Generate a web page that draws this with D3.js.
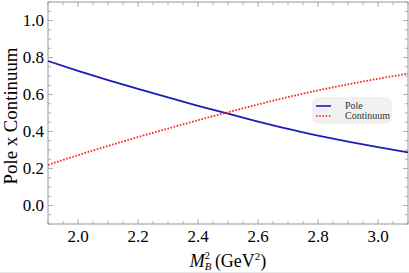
<!DOCTYPE html>
<html>
<head>
<meta charset="utf-8">
<script src="https://cdn.jsdelivr.net/npm/d3@7"></script>
<style>
  body { margin: 0; background: #fff; }
  svg text { font-family: "Liberation Serif", "Times New Roman", "DejaVu Serif", serif; }
</style>
</head>
<body>
<div id="chart"></div>
<script>
'use strict';

// data
var massSq = [1.9, 2.0, 2.1, 2.2, 2.3, 2.4, 2.5, 2.6, 2.7, 2.8, 2.9, 3.0, 3.1];
var pole = [0.781, 0.728, 0.678, 0.630, 0.584, 0.539, 0.496, 0.454, 0.414, 0.378, 0.345, 0.315, 0.287];
var continuum = [0.219, 0.272, 0.322, 0.370, 0.416, 0.461, 0.504, 0.546, 0.586, 0.622, 0.655, 0.685, 0.713];
var xTicks = [2.0, 2.2, 2.4, 2.6, 2.8, 3.0];
var yTicks = [0.0, 0.2, 0.4, 0.6, 0.8, 1.0];
var seriesNames = ["Pole", "Continuum"];

var serif = "'Liberation Serif', 'Times New Roman', 'DejaVu Serif', serif";

var width = 409, height = 273,
    margin = {top: 2, right: 1, bottom: 49, left: 48},
    w = width - margin.left - margin.right,
    h = height - margin.top - margin.bottom;

var svg = d3.select("#chart").append("svg")
    .attr("width", width)
    .attr("height", height)
    .attr("font-family", serif);

var g = svg.append("g").attr("transform", "translate(" + margin.left + "," + margin.top + ")");

var x = d3.scaleLinear().domain([1.9, 3.1]).range([0, w]);
var y = d3.scaleLinear().domain([-0.1, 1.1]).range([h, 0]);

var frameColor = "#999";

// minor + major ticks on all four sides, pointing inward
var xMinor = d3.range(1.9, 3.1001, 0.05);
var yMinor = d3.range(-0.1, 1.1001, 0.05);

function isMajor(v, list) {
    return list.some(function (t) { return Math.abs(t - v) < 1e-6; });
}

var ticks = g.append("g").attr("stroke", frameColor).attr("stroke-width", 0.8);

xMinor.forEach(function (v) {
    var len = isMajor(v, xTicks) ? 5 : 3;
    ticks.append("line").attr("x1", x(v)).attr("x2", x(v)).attr("y1", h).attr("y2", h - len);
    ticks.append("line").attr("x1", x(v)).attr("x2", x(v)).attr("y1", 0).attr("y2", len);
});
yMinor.forEach(function (v) {
    var len = isMajor(v, yTicks) ? 5 : 3;
    ticks.append("line").attr("y1", y(v)).attr("y2", y(v)).attr("x1", 0).attr("x2", len);
    ticks.append("line").attr("y1", y(v)).attr("y2", y(v)).attr("x1", w).attr("x2", w - len);
});

g.append("rect")
    .attr("width", w).attr("height", h)
    .attr("fill", "none")
    .attr("stroke", frameColor)
    .attr("stroke-width", 1);

// tick labels
g.selectAll("text.xlab").data(xTicks).enter().append("text")
    .attr("class", "xlab")
    .attr("x", function (d) { return x(d); })
    .attr("y", h + 18)
    .attr("text-anchor", "middle")
    .attr("font-size", 17)
    .text(function (d) { return d.toFixed(1); });

g.selectAll("text.ylab").data(yTicks).enter().append("text")
    .attr("class", "ylab")
    .attr("x", -4)
    .attr("y", function (d) { return y(d) + 5; })
    .attr("text-anchor", "end")
    .attr("font-size", 17)
    .text(function (d) { return d.toFixed(1); });

// axis titles
var xt = svg.append("text")
    .attr("x", margin.left + w / 2)
    .attr("y", 267)
    .attr("text-anchor", "middle")
    .attr("font-size", 18);
xt.append("tspan").attr("font-style", "italic").text("M");
xt.append("tspan").attr("dy", 3).attr("font-size", 11).attr("font-style", "italic").text("B");
xt.append("tspan").attr("dy", -11).attr("dx", -7).attr("font-size", 11).text("2");
xt.append("tspan").attr("dy", 8).attr("dx", 5).text("(GeV");
xt.append("tspan").attr("dy", -7).attr("font-size", 11).text("2");
xt.append("tspan").attr("dy", 7).text(")");

var yt = svg.append("text")
    .attr("transform", "translate(17,116) rotate(-90)")
    .attr("text-anchor", "middle")
    .attr("font-size", 16)
    .text("Pole x Continuum");
// fit the rotated title to the length seen in the picture
var ytLen = yt.node().getComputedTextLength();
yt.attr("font-size", 16 * 137 / ytLen);

// curves
var line = d3.line()
    .x(function (d) { return x(d[0]); })
    .y(function (d) { return y(d[1]); })
    .curve(d3.curveMonotoneX);

var plot = g.append("g");

plot.append("path")
    .datum(d3.zip(massSq, pole))
    .attr("fill", "none")
    .attr("stroke", "#1c1cb8")
    .attr("stroke-width", 1.8)
    .attr("d", line);

plot.append("path")
    .datum(d3.zip(massSq, continuum))
    .attr("fill", "none")
    .attr("stroke", "#ff2020")
    .attr("stroke-width", 1.8)
    .attr("stroke-dasharray", "1.6,1.6")
    .attr("d", line);

// legend
var legend = svg.append("g").attr("transform", "translate(312,97)");
legend.append("rect")
    .attr("width", 80).attr("height", 27)
    .attr("rx", 7).attr("ry", 7)
    .attr("fill", "#f0f0f0");

var styles = [
    {stroke: "#1c1cb8", dash: null},
    {stroke: "#ff2020", dash: "1.6,1.6"}
];
seriesNames.forEach(function (name, i) {
    var yy = 9 + i * 10;
    legend.append("line")
        .attr("x1", 4).attr("x2", 19)
        .attr("y1", yy).attr("y2", yy)
        .attr("stroke", styles[i].stroke)
        .attr("stroke-width", 1.6)
        .attr("stroke-dasharray", styles[i].dash);
    legend.append("text")
        .attr("x", 33).attr("y", yy + 3)
        .attr("font-size", 10)
        .attr("fill", "#333")
        .text(name);
});

// faint border line at the very bottom of the picture
svg.append("line")
    .attr("x1", 0).attr("x2", width)
    .attr("y1", 272.5).attr("y2", 272.5)
    .attr("stroke", "#e6e6e6");
</script>
</body>
</html>
